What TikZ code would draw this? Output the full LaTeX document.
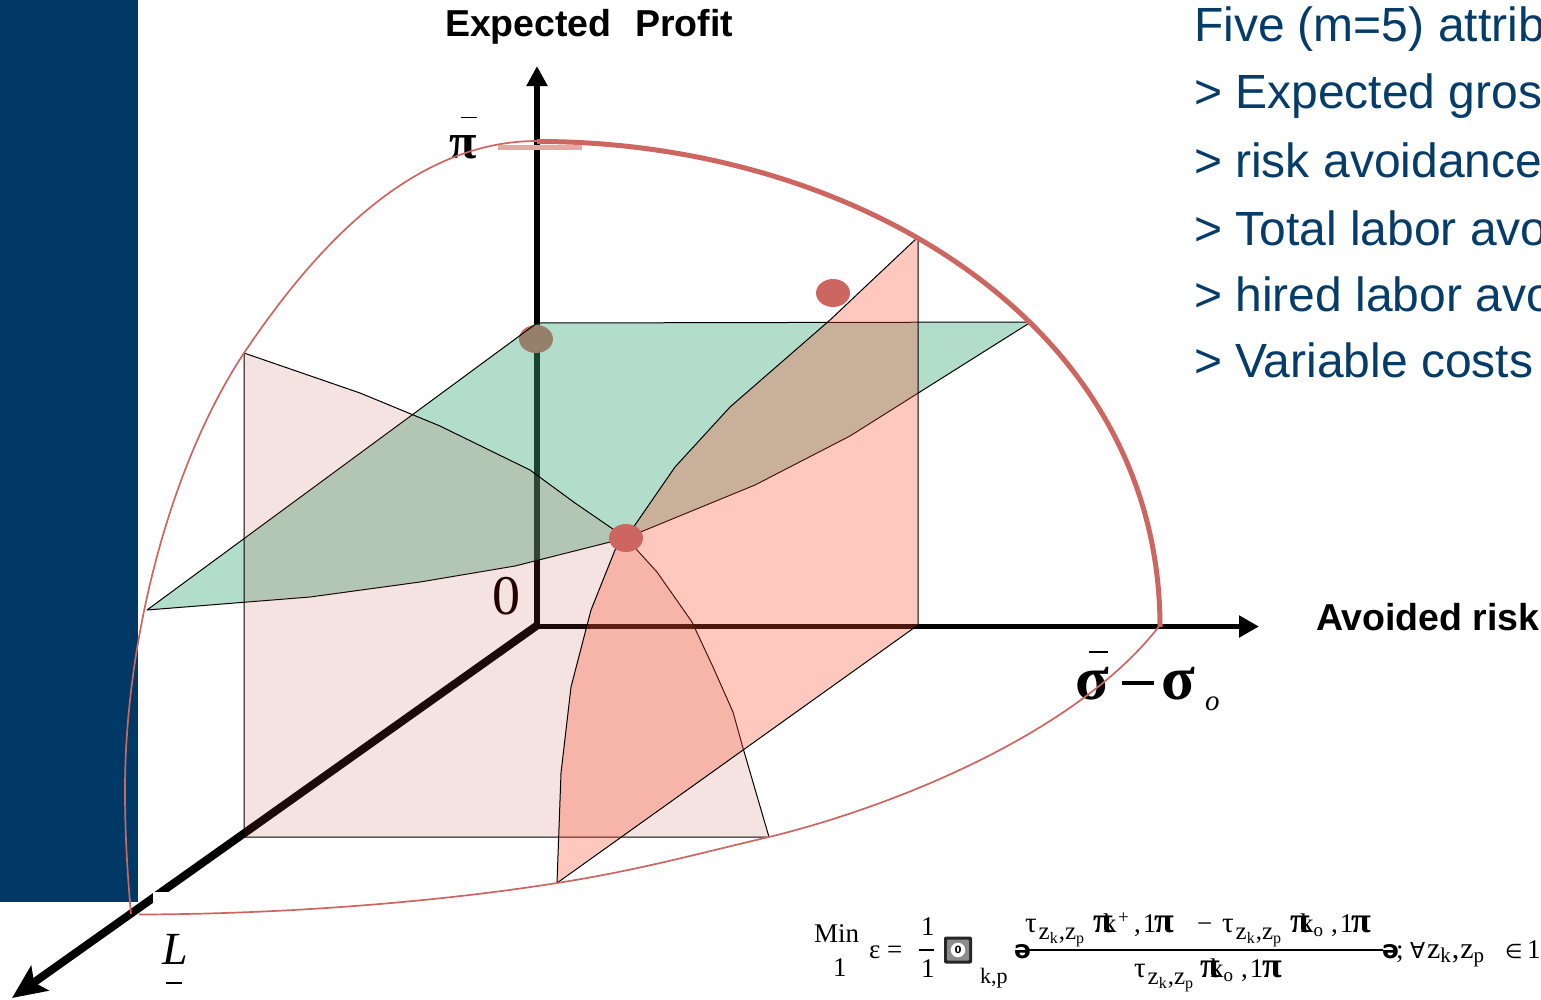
\documentclass[tikz,border=0pt]{standalone}
\usepackage{fontspec}
\usetikzlibrary{arrows.meta}
\setmainfont{Liberation Serif}
\newfontfamily\arialf{Liberation Sans}
\newfontfamily\djv{DejaVu Sans}
\definecolor{navyband}{RGB}{0,57,102}
\definecolor{bluetext}{RGB}{5,60,105}
\definecolor{curvered}{RGB}{205,102,96}
\definecolor{palebar}{RGB}{229,169,165}
\definecolor{planegreen}{RGB}{67,170,125}
\definecolor{planepink}{RGB}{182,68,55}
\definecolor{planesalmon}{RGB}{255,75,45}
\newcommand{\fsz}[1]{\fontsize{#1}{#1}\selectfont}
\newcommand{\tauz}{\fsz{29}τ\kern2pt\raisebox{-7pt}{\fsz{25}z\raisebox{-4pt}{\fsz{16}k}\kern1pt,z\raisebox{-4pt}{\fsz{16}p}}}
\newcommand{\gark}{\fsz{36}\bfseries π}
\tikzset{
  txt/.style={inner sep=0pt,outer sep=0pt,anchor=base west},
  bullet/.style={txt,font=\arialf\fsz{48},text=bluetext},
  axlabel/.style={txt,font=\arialf\bfseries\fsz{37.5},text=black},
  frm/.style={txt,font=\fsz{27},text=black},
  edge/.style={draw=black,line width=1pt,line join=round},
  dot/.style={fill=curvered,draw=none},
  thincurve/.style={draw=curvered,line width=1.7pt},
  thickcurve/.style={draw=curvered,line width=5pt},
  axisv/.style={draw=black,line width=6pt,-{Triangle[length=20pt,width=20pt]}},
  axish/.style={draw=black,line width=5.5pt,-{Triangle[length=20pt,width=21pt]}},
  axisd/.style={draw=black,line width=8pt,-{Stealth[length=34pt,width=30pt,inset=7pt]}},
}
\begin{document}
\begin{tikzpicture}[x=1pt,y=-1pt]
\useasboundingbox (0,0) rectangle (1541,999);
\clip (0,0) rectangle (1541,999);
\fill[white] (0,0) rectangle (1541,999);
\fill[navyband] (0,0) rectangle (138,902);

\coordinate (O) at (537,625.5);
\coordinate (Ztip) at (537,66);
\coordinate (Xtip) at (1259,626.5);
\coordinate (Ytip) at (12,998);
\draw[axisv] (537,628) -- (Ztip);
\draw[axish] (535,626.5) -- (Xtip);
\draw[axisd] (O) -- (Ytip);
\fill[white] (153,892) rectangle (168,902);
\fill[white] (153,902) rectangle (160,905);

\fill[dot] (536,339) ellipse (17 and 14);

% planes
\path[edge,fill=planegreen,fill opacity=.4]
  (147,610) -- (537,323) -- (1031,322) -- (850,436) -- (755,485) -- (626,538)
  -- (515,566) -- (420,582) -- (310,597) -- cycle;
\path[edge,fill=planepink,fill opacity=.15]
  (244,353) -- (360,393) -- (440,426) -- (530,470) -- (575,503) -- (626,538)
  -- (637,550) -- (657,572) -- (692,622) -- (713,667) -- (733,712) -- (743,748)
  -- (769,837) -- (244,837) -- cycle;
\path[edge,fill=planesalmon,fill opacity=.3]
  (918,237) -- (830,320) -- (730,407) -- (675,467) -- (626,538)
  -- (615,550) -- (591,610) -- (571,687) -- (561,773) -- (557,883)
  -- (918,625) -- cycle;

\fill[dot] (626,538) ellipse (17 and 14);
\fill[dot] (833,293) ellipse (17 and 14);

% axis labels
\node[axlabel] (zlab) at (445,36) {Expected\hspace{13pt} Profit};
\node[axlabel] (xlab) at (1316,630) {Avoided risk};
\node[txt,font=\fsz{56},text=black!85!red] (zero) at (492,614) {0};
\node[txt,font=\bfseries\fsz{50}] (pibar) at (449,158) {π};
\draw[line width=1.6pt] (461,117.500) -- (477,117.500);
\node[txt,font=\bfseries\fsz{62}] (sig1) at (1075,699) {σ};
\draw[line width=1.8pt] (1089,652) -- (1108,652);
\draw[line width=4.500pt] (1122,683) -- (1154,683);
\node[txt,font=\bfseries\fsz{62}] (sig2) at (1161,699) {σ};
\node[txt,font=\itshape\fsz{29}] (subo) at (1205,710) {o};
\node[txt,font=\itshape\fsz{46}] (Lvar) at (162,964) {L};
\draw[line width=1.6pt] (166,983) -- (182,983);

% outer curves
\draw[thincurve] (537,141) .. controls (400,141) and (300,270) .. (244,353)
  .. controls (170,465) and (125,640) .. (125,790)
  .. controls (125,840) and (128,880) .. (131,914);
\draw[thincurve] (139,914.500) .. controls (300,914) and (450,900) .. (557,883)
  .. controls (640,870) and (700,853) .. (769,837)
  .. controls (900,805) and (1080,730) .. (1160,625);
\draw[thickcurve] (537,141.500) .. controls (850,141) and (1160,320) .. (1160,627);
\fill[palebar] (498,144.500) rectangle (582,150);

% bullet text
\node[bullet] (b0) at (1194,41) {Five (m=5) attrib};
\node[bullet] (b1) at (1194,108) {> Expected gros};
\node[bullet] (b2) at (1194,177) {> risk avoidance};
\node[bullet] (b3) at (1194,245) {> Total labor avo};
\node[bullet] (b4) at (1194,311) {> hired labor avo};
\node[bullet] (b5) at (1194,377) {> Variable costs};

% formula
\node[frm] (fmin) at (814,942) {Min};
\node[frm] (fone) at (833,976) {1};
\node[frm] (feps) at (869,958) {ε};
\node[frm] (feq) at (887,958) {=};
\node[frm] (f1a) at (921,935) {1};
\node[frm] (f1b) at (921,977) {1};
\draw[line width=1.8pt] (919,950) -- (934,950);
\node[fill=black!85,rounded corners=2pt,minimum width=28pt,minimum height=27pt,inner sep=0pt] (fbox) at (958,950) {};
\node[fill=black!45,rounded corners=1pt,minimum width=22pt,minimum height=21pt,inner sep=0pt] (fboxm) at (958,950) {};
\node[fill=white,circle,inner sep=1.5pt,font=\djv\bfseries\fsz{10}] (fboxz) at (958,950) {0};
\node[txt,font=\fsz{22}] (fkp) at (980,983) {k,p};
\node[txt,font=\djv\bfseries\fsz{25}] (fgl) at (1014,958) {ə};
\draw[line width=2pt] (1028,949.500) -- (1383,949.500);
\node[txt,font=\djv\bfseries\fsz{25}] (fgr) at (1382,958) {ə};

\node[frm] (n1) at (1025,932) {\tauz};
\node[frm] (n2) at (1093,932) {\gark};
\node[frm] (n3) at (1103,932) {k};
\node[txt,font=\fsz{19}] (n4) at (1118,923) {+};
\node[frm] (n5) at (1134,932) {,\kern2pt 1};
\node[frm] (n6) at (1154,932) {\gark};
\node[frm] (n7) at (1197,932) {−};
\node[frm] (n8) at (1222,932) {\tauz};
\node[frm] (n9) at (1290,932) {\gark};
\node[frm] (n10) at (1300,932) {k\raisebox{-4pt}{\fsz{19}o}};
\node[frm] (n11) at (1331,932) {,\kern2pt 1};
\node[frm] (n12) at (1351,932) {\gark};

\node[frm] (d1) at (1134,977) {\tauz};
\node[frm] (d2) at (1200,977) {\gark};
\node[frm] (d3) at (1210,977) {k\raisebox{-4pt}{\fsz{19}o}};
\node[frm] (d4) at (1241,977) {,\kern2pt 1};
\node[frm] (d5) at (1262,977) {\gark};

\node[frm] (fe) at (1396,958) {;};
\node[txt,font=\djv\fsz{22}] (fall) at (1410,958) {∀};
\node[txt,font=\fsz{30}] (fz) at (1427,958) {z\raisebox{-4pt}{\fsz{21}k}\kern1pt,\kern1pt z\raisebox{-4pt}{\fsz{21}p}};
\node[txt,font=\djv\fsz{20}] (fin) at (1505,958) {∈};
\node[frm] (f1c) at (1527,958) {1};
\end{tikzpicture}
\end{document}
